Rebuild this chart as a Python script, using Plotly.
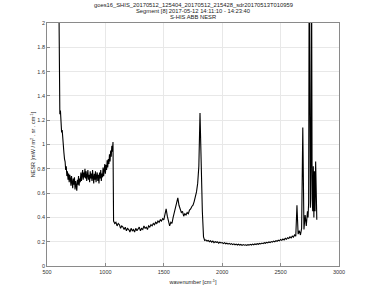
import plotly.graph_objects as go

# ---- data ----
band1_start, band1_step = 600, 5
band1_nesr = [2.40, 1.32, 1.25, 1.28, 1.16, 1.10, 1.12, 1.02, 0.98, 0.93,
              0.88, 0.86, 0.79, 0.82, 0.74, 0.78, 0.71, 0.76, 0.69, 0.75,
              0.72, 0.66, 0.74, 0.69, 0.64, 0.72, 0.67, 0.73, 0.63, 0.70,
              0.66, 0.62, 0.71, 0.67, 0.74, 0.66, 0.72, 0.69, 0.77, 0.70,
              0.75, 0.79, 0.71, 0.77, 0.73, 0.80, 0.72, 0.78, 0.70, 0.76,
              0.79, 0.71, 0.75, 0.69, 0.78, 0.72, 0.76, 0.70, 0.79, 0.73,
              0.68, 0.76, 0.71, 0.78, 0.69, 0.74, 0.77, 0.70, 0.75, 0.68,
              0.77, 0.72, 0.79, 0.70, 0.76, 0.73, 0.81, 0.74, 0.79, 0.84,
              0.76, 0.83, 0.79, 0.87, 0.81, 0.88, 0.84, 0.92, 0.86, 0.95,
              0.90, 0.99, 0.94, 1.02]

band2_start, band2_step = 1070, 10
band2_nesr = [0.37, 0.35, 0.36, 0.33, 0.35, 0.34, 0.31, 0.33, 0.32, 0.30,
              0.32, 0.29, 0.31, 0.30, 0.28, 0.31, 0.29, 0.30, 0.28, 0.31,
              0.29, 0.31, 0.32, 0.29, 0.31, 0.30, 0.33, 0.31, 0.32, 0.30,
              0.33, 0.32, 0.34, 0.33, 0.35, 0.34, 0.36, 0.35, 0.37, 0.36,
              0.38, 0.37, 0.39, 0.38, 0.43, 0.47, 0.41, 0.37, 0.33, 0.36,
              0.35, 0.40, 0.44, 0.48, 0.52, 0.56, 0.50, 0.47, 0.44, 0.45,
              0.41, 0.43, 0.42, 0.44, 0.43, 0.46, 0.47, 0.49, 0.50, 0.53,
              0.57, 0.61, 0.68, 0.82, 1.26, 0.80, 0.45, 0.24, 0.21]

band3_start, band3_step = 1860, 10
band3_nesr = [0.215, 0.205, 0.210, 0.200, 0.208, 0.196, 0.205, 0.192, 0.200, 0.195,
              0.198, 0.188, 0.196, 0.190, 0.193, 0.184, 0.192, 0.183, 0.188, 0.180,
              0.186, 0.178, 0.184, 0.176, 0.182, 0.175, 0.180, 0.173, 0.179, 0.172,
              0.177, 0.170, 0.176, 0.171, 0.175, 0.170, 0.176, 0.172, 0.178, 0.173,
              0.180, 0.175, 0.182, 0.177, 0.184, 0.179, 0.186, 0.182, 0.189, 0.184,
              0.192, 0.187, 0.195, 0.190, 0.198, 0.193, 0.201, 0.196, 0.205, 0.199,
              0.209, 0.203, 0.213, 0.207, 0.218, 0.211, 0.222, 0.215, 0.228, 0.220,
              0.233, 0.226, 0.240, 0.231, 0.246, 0.238, 0.255, 0.245, 0.500, 0.262,
              0.290, 0.255, 0.310, 1.140, 0.300, 0.420, 0.330, 0.450]

band4_wn = [2735, 2740, 2745, 2750, 2755, 2760, 2765, 2770,
            2775, 2780, 2785, 2790, 2795, 2800, 2805, 2810]
band4_nesr = [0.40, 0.52, 2.60, 0.60, 0.48, 0.85, 2.60, 0.55,
              0.45, 0.82, 0.40, 0.78, 0.45, 0.86, 0.50, 0.38]

title_lines = ["goes16_SHIS_20170512_125404_20170512_215428_sdr20170513T010959",
               "Segment [8] 2017-05-12 14:11:10 - 14:23:40",
               "S-HIS ABB NESR"]
x_ticks = [500, 1000, 1500, 2000, 2500, 3000]
y_ticks = [0, 0.2, 0.4, 0.6, 0.8, 1, 1.2, 1.4, 1.6, 1.8, 2]

# ---- build series ----
def grid(start, step, vals):
    return [start + step * i for i in range(len(vals))]

wn = (grid(band1_start, band1_step, band1_nesr)
      + grid(band2_start, band2_step, band2_nesr)
      + grid(band3_start, band3_step, band3_nesr)
      + band4_wn)
nesr = band1_nesr + band2_nesr + band3_nesr + band4_nesr

fig = go.Figure(go.Scatter(x=wn, y=nesr, mode="lines",
                           line=dict(color="black", width=1.1),
                           showlegend=False, hoverinfo="skip"))

font = "Liberation Sans, Arial, sans-serif"
axis_common = dict(showline=True, linecolor="#8a8a8a", linewidth=0.8, mirror=True,
                   showgrid=True, gridcolor="#e8e8e8", gridwidth=0.6,
                   ticks="inside", ticklen=3, tickcolor="#8a8a8a", tickwidth=0.6,
                   zeroline=False, tickfont=dict(size=5.5, color="#333", family=font))

fig.update_layout(
    width=375, height=301,
    margin=dict(l=47, r=36, t=22.5, b=35),
    paper_bgcolor="white", plot_bgcolor="white",
    font=dict(family=font, size=6, color="#222"),
    xaxis=dict(range=[500, 3000], tickvals=x_ticks, ticktext=[str(v) for v in x_ticks],
               title=dict(text="wavenumber [cm<sup>-1</sup>]", font=dict(size=5.5), standoff=6),
               **axis_common),
    yaxis=dict(range=[0, 2], tickvals=y_ticks,
               ticktext=[("%g" % v) for v in y_ticks],
               title=dict(text="NESR [mW / m<sup>2</sup> . sr . cm<sup>-1</sup>]",
                          font=dict(size=5.5), standoff=1),
               **axis_common),
)

# three centred title lines above the plot
for i, line in enumerate(title_lines):
    fig.add_annotation(text=line, xref="paper", yref="paper", x=0.5,
                       y=1.073 - 0.0246 * i, xanchor="center", yanchor="middle",
                       showarrow=False, font=dict(size=5.8, color="#222", family=font))

fig.write_html("out.html")
